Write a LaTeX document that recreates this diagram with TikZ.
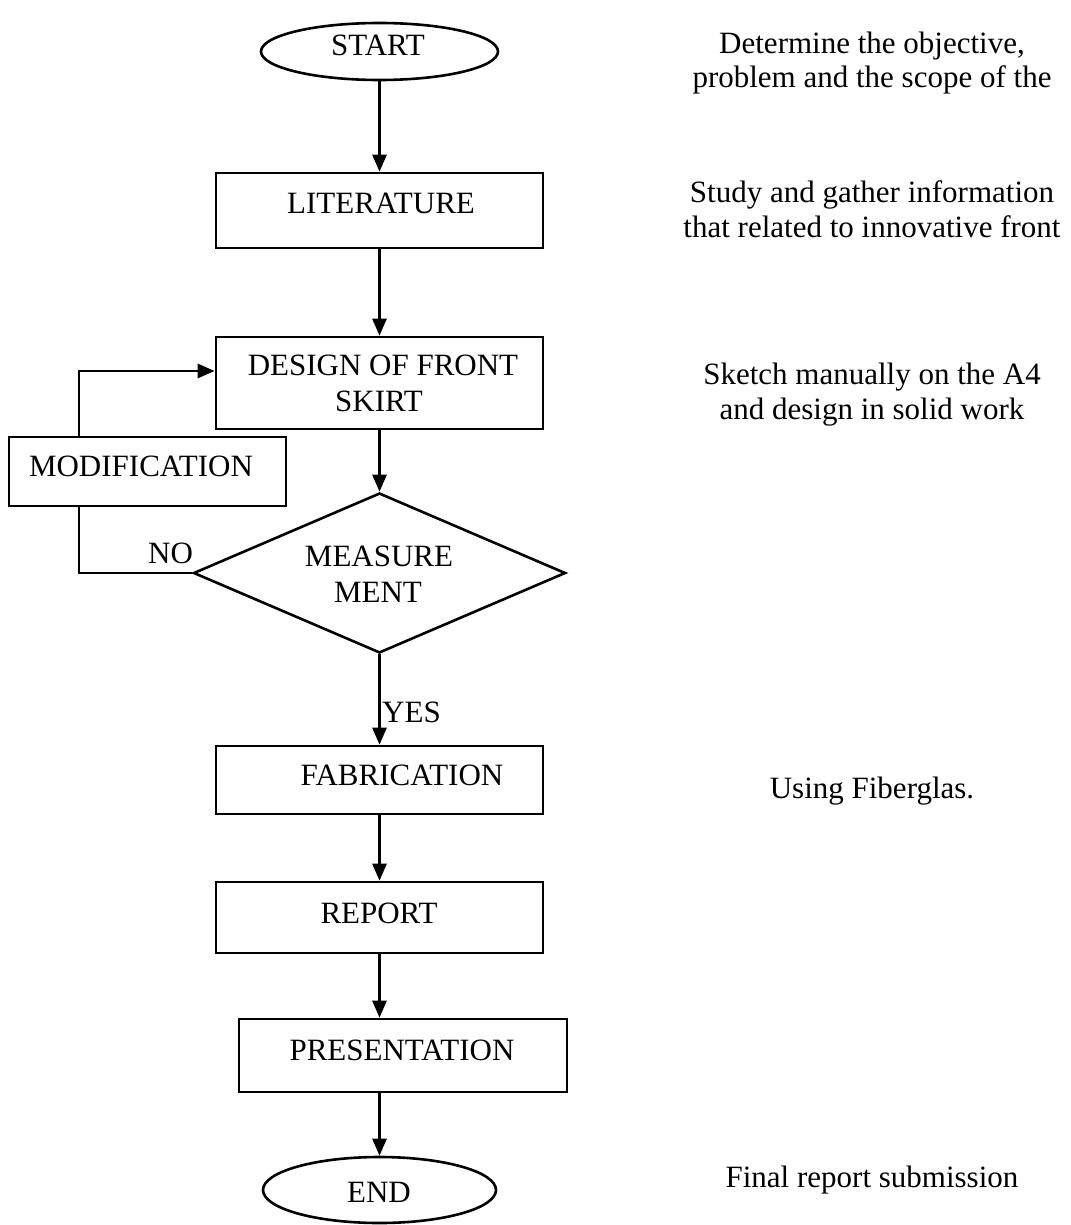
\documentclass[tikz,border=0pt]{standalone}
\usepackage{fontspec}
\setmainfont{Liberation Serif}
\usetikzlibrary{shapes.geometric,arrows.meta,calc}
\begin{document}
\begin{tikzpicture}[x=1pt,y=-1pt,
  every node/.style={font=\fontsize{31}{35}\selectfont},
  box/.style={draw, rectangle, line width=2.6pt, inner sep=0pt},
  term/.style={draw, ellipse, line width=2.6pt, inner sep=0pt},
  decide/.style={draw, diamond, line width=2.6pt, inner sep=0pt},
  txt/.style={anchor=base, inner sep=0pt},
  note/.style={anchor=base, inner sep=0pt},
  plain/.style={line width=2.6pt},
  flow/.style={line width=2.6pt, -{Triangle[length=17pt,width=14pt]}}]

% page
\fill[white] (0,0) rectangle (1070,1225);
\useasboundingbox (0,0) rectangle (1070,1225);

% flow chart shapes
\node[term, minimum width=237pt, minimum height=57pt] (start) at (379.5,51.5) {};
\node[box, minimum width=327pt, minimum height=75pt] (lit) at (379.5,210.5) {};
\node[box, minimum width=327pt, minimum height=92pt] (design) at (379.5,383) {};
\node[box, minimum width=277pt, minimum height=69pt] (mod) at (147.5,471.5) {};
\node[decide, minimum width=372pt, minimum height=160pt] (meas) at (379.5,573) {};
\node[box, minimum width=327pt, minimum height=68pt] (fab) at (379.5,780) {};
\node[box, minimum width=327pt, minimum height=71pt] (rep) at (379.5,917.5) {};
\node[box, minimum width=328pt, minimum height=73pt] (pres) at (403,1055.5) {};
\node[term, minimum width=233pt, minimum height=66pt] (end) at (379.5,1190) {};

% texts inside the shapes
\node[txt] (startT) at (378,56) {START};
\node[txt] (litT) at (381,213) {LITERATURE};
\node[txt] (designT1) at (383,375) {DESIGN OF FRONT};
\node[txt] (designT2) at (379,411) {SKIRT};
\node[txt] (modT) at (141,476) {MODIFICATION};
\node[txt] (measT1) at (379,566) {MEASURE};
\node[txt] (measT2) at (378,602) {MENT};
\node[txt] (fabT) at (402,785) {FABRICATION};
\node[txt] (repT) at (379,923) {REPORT};
\node[txt] (presT) at (402,1060) {PRESENTATION};
\node[txt] (endT) at (379,1202) {END};

% branch labels
\node[txt, anchor=base west] (no) at (148,563) {NO};
\node[txt, anchor=base west] (yes) at (382,722) {YES};

% main flow
\draw[flow] (start.south) -- (lit.north);
\draw[flow] (lit.south) -- (design.north);
\draw[flow] (design.south) -- (meas.north);
\draw[flow] (meas.south) -- (fab.north);
\draw[flow] (fab.south) -- (rep.north);
\draw[flow] (rep.south) -- (rep.south |- pres.north);
\draw[flow] (end.north |- pres.south) -- (end.north);

% modification loop
\coordinate (lx) at (79,0);
\draw[plain] (meas.west) -| (lx |- mod.south);
\draw[flow] (lx |- mod.north) |- ($(design.west)+(0,-12)$);

% notes on the right
\node[note] (n1a) at (872,54) {Determine the objective,};
\node[note] (n1b) at (872,88) {problem and the scope of the};
\node[note] (n2a) at (872,202) {Study and gather information};
\node[note] (n2b) at (872,237) {that related to innovative front};
\node[note] (n3a) at (872,384) {Sketch manually on the A4};
\node[note] (n3b) at (872,419) {and design in solid work};
\node[note] (n4) at (872,798) {Using Fiberglas.};
\node[note] (n5) at (872,1187) {Final report submission};
\end{tikzpicture}
\end{document}
